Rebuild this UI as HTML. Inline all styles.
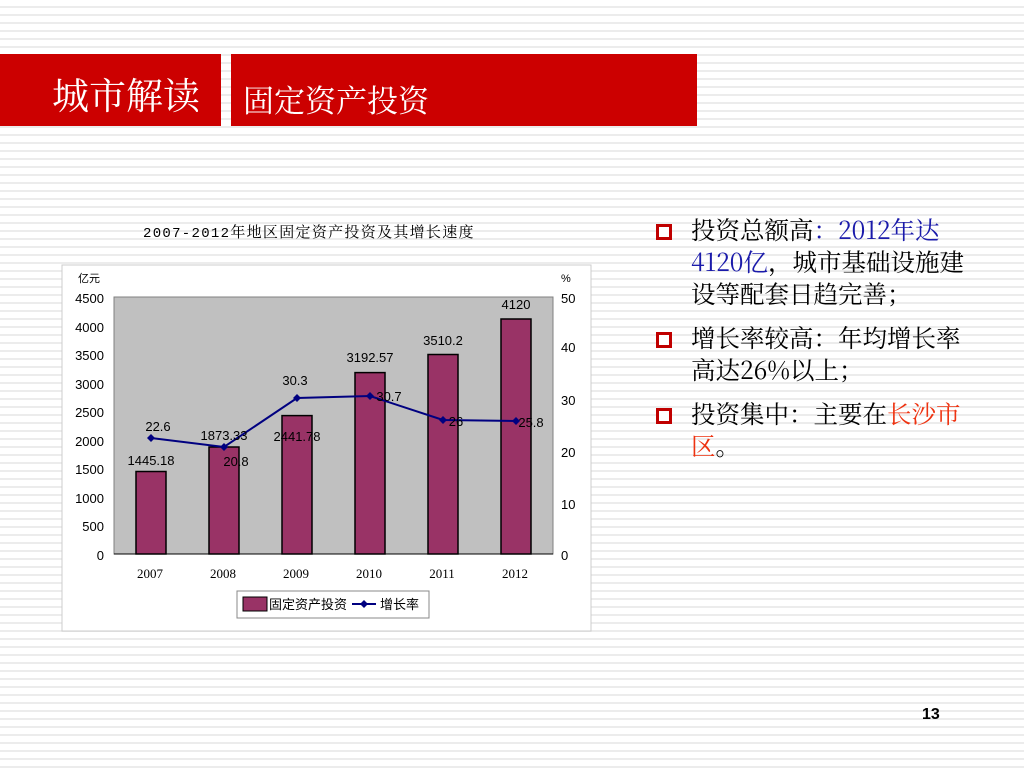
<!DOCTYPE html>
<html><head><meta charset="utf-8"><style>
body{margin:0;width:1024px;height:768px;overflow:hidden;position:relative;background:#fff repeating-linear-gradient(to bottom,#fff 0,#fff 6px,#ececec 6px,#ececec 8px);font-family:"Liberation Sans","Noto Sans CJK SC",sans-serif}
.r{position:absolute;background:#cc0000;color:#fff;font-family:"Liberation Serif","Noto Serif CJK SC",serif}
.t{position:absolute;left:691px;width:290px;font-family:"Noto Serif CJK SC",serif;font-size:24.5px;line-height:32px;color:#000}
.b{position:absolute;left:656px;width:10px;height:10px;border:3px solid #c00000;background:#fff}
</style></head><body>
<div class="r" style="left:0;top:54px;width:221px;height:72px;"><span style="position:absolute;left:52px;top:12px;font-size:37px;">城市解读</span></div>
<div class="r" style="left:231px;top:54px;width:466px;height:72px;"><span style="position:absolute;left:12px;top:22px;font-size:31px;">固定资产投资</span></div>
<div style="position:absolute;left:143px;top:221px;font-size:15px;letter-spacing:1.3px;font-family:'Liberation Mono','Noto Serif CJK SC',monospace"><span style="font-size:14px">2007-2012</span>年地区固定资产投资及其增长速度</div>
<svg style="position:absolute;left:0;top:0" width="1024" height="768" font-family="Liberation Sans,Noto Sans CJK SC,sans-serif" font-size="13">
<rect x="62" y="265" width="529" height="366" fill="#fff" stroke="#ccc"/>
<rect x="114" y="297" width="439" height="257" fill="#c0c0c0" stroke="#808080"/>
<g fill="#993366" stroke="#000" stroke-width="1.5">
<rect x="136" y="471.5" width="30" height="82.5"/>
<rect x="209" y="447" width="30" height="107"/>
<rect x="282" y="415.6" width="30" height="138.4"/>
<rect x="355" y="372.6" width="30" height="181.4"/>
<rect x="428" y="354.5" width="30" height="199.5"/>
<rect x="501" y="319" width="30" height="235"/>
</g>
<line x1="114" y1="554" x2="553" y2="554" stroke="#000"/>
<polyline fill="none" stroke="#000080" stroke-width="2" points="151,438 224,447 297,398 370,396 443,420 516,421"/>
<g fill="#000080"><path d="M151 434l4 4-4 4-4-4z"/><path d="M224 443l4 4-4 4-4-4z"/><path d="M297 394l4 4-4 4-4-4z"/><path d="M370 392l4 4-4 4-4-4z"/><path d="M443 416l4 4-4 4-4-4z"/><path d="M516 417l4 4-4 4-4-4z"/></g>
<g text-anchor="middle" font-size="13">
<text x="151" y="465">1445.18</text><text x="224" y="440">1873.33</text><text x="297" y="441">2441.78</text><text x="370" y="362">3192.57</text><text x="443" y="345">3510.2</text><text x="516" y="309">4120</text>
<text x="158" y="431">22.6</text><text x="236" y="466">20.8</text><text x="295" y="385">30.3</text><text x="389" y="401">30.7</text><text x="456" y="426">26</text><text x="531" y="427">25.8</text>
</g>
<g text-anchor="end" font-size="13"><text x="104" y="303">4500</text><text x="104" y="332">4000</text><text x="104" y="360">3500</text><text x="104" y="389">3000</text><text x="104" y="417">2500</text><text x="104" y="446">2000</text><text x="104" y="474">1500</text><text x="104" y="503">1000</text><text x="104" y="531">500</text><text x="104" y="560">0</text></g>
<g font-size="13"><text x="561" y="303">50</text><text x="561" y="352">40</text><text x="561" y="405">30</text><text x="561" y="457">20</text><text x="561" y="509">10</text><text x="561" y="560">0</text><text x="561" y="282" font-size="11">%</text><text x="78" y="282" font-size="11">亿元</text></g>
<g text-anchor="middle" font-family="Liberation Serif,serif" font-size="13"><text x="150" y="578">2007</text><text x="223" y="578">2008</text><text x="296" y="578">2009</text><text x="369" y="578">2010</text><text x="442" y="578">2011</text><text x="515" y="578">2012</text></g>
<rect x="237" y="591" width="192" height="27" fill="#fff" stroke="#888"/>
<rect x="243" y="597" width="24" height="14" fill="#993366" stroke="#000"/>
<text x="269" y="609" font-size="13">固定资产投资</text>
<line x1="352" y1="604" x2="376" y2="604" stroke="#000080" stroke-width="2"/><path d="M364 600l4 4-4 4-4-4z" fill="#000080"/>
<text x="380" y="609" font-size="13">增长率</text>
</svg>
<div class="b" style="top:224px"></div><div class="b" style="top:332px"></div><div class="b" style="top:408px"></div>
<div class="t" style="top:214px">投资总额高<span style="color:#1a1aaa">：2012年达4120亿</span>，城市基础设施建设等配套日趋完善；</div>
<div class="t" style="top:322px">增长率较高：年均增长率高达26%以上；</div>
<div class="t" style="top:398px">投资集中：主要在<span style="color:#ee3311">长沙市区</span>。</div>
<div style="position:absolute;left:922px;top:706px;font-size:16px;font-weight:bold">13</div>
</body></html>
